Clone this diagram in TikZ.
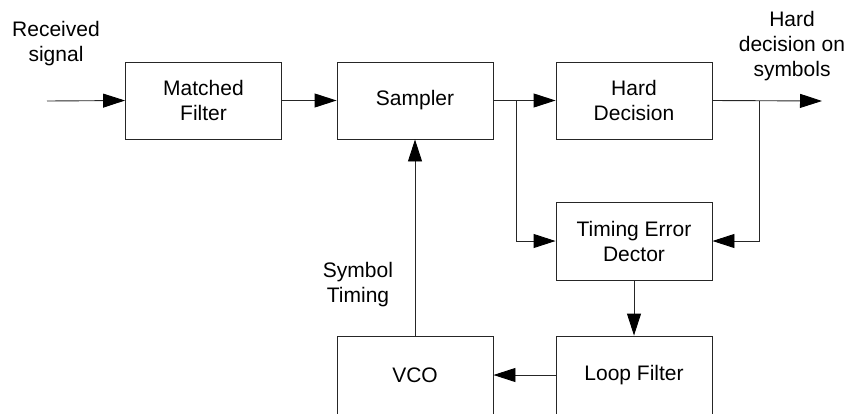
\documentclass[tikz,border=0pt]{standalone}
\usepackage{fontspec}
\setmainfont{Liberation Sans}
\usetikzlibrary{arrows.meta}
\begin{document}
\begin{tikzpicture}[x=1pt,y=-1pt,
  blk/.style={draw=black!85, line width=0.9pt, inner sep=0pt, minimum width=156pt, minimum height=77pt, align=center, font=\fontsize{21}{25}\selectfont},
  lbl/.style={align=center, inner sep=0pt, font=\fontsize{21}{25}\selectfont},
  conn/.style={draw=black!85, line width=0.9pt, -{Triangle[length=22pt,width=14pt,color=black]}},
  wire/.style={draw=black!85, line width=0.9pt}]
\useasboundingbox (0,0) rectangle (851,413);
\clip (0,0) rectangle (851,413);
\node[blk] (mf) at (203.5,100.5) {Matched\\Filter};
\node[blk] (sam) at (415,100.5) {Sampler};
\node[blk] (hd) at (634,100.5) {Hard\\Decision};
\node[blk, minimum height=78pt] (ted) at (634,241) {Timing Error\\Dector};
\node[blk, minimum height=78pt] (lf) at (634,375) {Loop Filter};
\node[blk, minimum height=78pt] (vco) at (415,375) {VCO};
\node[lbl] (rx) at (56,44) {Received\\signal};
\node[lbl] (hdo) at (792,46) {Hard\\decision on\\symbols};
\node[lbl] (st) at (358,285) {Symbol\\Timing};
\coordinate (in) at (47,101);
\coordinate (out) at (822,101);
\coordinate (b1) at (516,101);
\coordinate (b2) at (759,101);
\draw[conn] (in) -- (mf.west);
\draw[conn] (mf.east) -- (sam.west);
\draw[conn] (sam.east) -- (hd.west);
\draw[conn] (hd.east) -- (out);
\draw[conn] (b1) |- (ted.west);
\draw[conn] (b2) |- (ted.east);
\draw[conn] (ted.south) -- (lf.north);
\draw[conn] (lf.west) -- (vco.east);
\draw[conn] (vco.north) -- (sam.south);
\end{tikzpicture}
\end{document}
